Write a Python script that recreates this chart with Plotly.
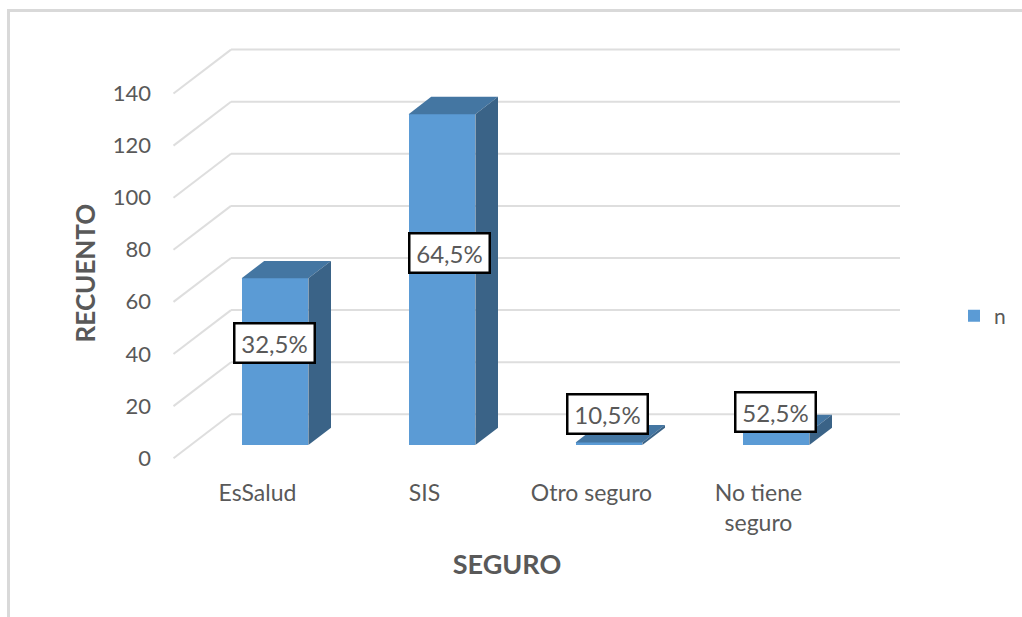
import plotly.graph_objects as go

categories = ["EsSalud", "SIS", "Otro seguro", "No tiene<br>seguro"]
counts = [64, 127, 1, 5]
percent_labels = ["32,5%", "64,5%", "10,5%", "52,5%"]
series_name = "n"
y_ticks = [0, 20, 40, 60, 80, 100, 120, 140]

# pixel geometry of the page
W, H = 1022, 617
PX_PER_CAT = 167.0
PX_PER_UNIT = 2.605
X0_PX, Y0_PX = 275.0, 456.0     # pixel of category 0 centre / value 0
DOM_L, DOM_R, DOM_T, DOM_B = 112, 902, 46, 500
AXIS_X_PX, AXIS_Y_PX = 151, 477

def xpx(p):
    return (p - X0_PX) / PX_PER_CAT
def ypx(p):
    return (Y0_PX - p) / PX_PER_UNIT

BAR_W = 0.4
BAR_BASE = ypx(445)
DEPTH_X = 22.6 / PX_PER_CAT
DEPTH_Y = 17.3 / PX_PER_UNIT
GRID_FRONT_X, GRID_BACK_X, GRID_RIGHT_X = xpx(173.5), xpx(231), xpx(900)
GRID_FRONT_OFF, GRID_BACK_OFF = ypx(458.2), ypx(414.3)

FRONT, TOP, SIDE = "#5B9BD5", "#4476A2", "#3A6387"
GRAY = "#595959"
FONT = "Lato"

positions = list(range(len(categories)))
fig = go.Figure()
fig.add_trace(go.Bar(x=positions, y=counts, base=[BAR_BASE] * 4, width=BAR_W,
                     marker=dict(color=FRONT, line=dict(width=0)), name=series_name,
                     showlegend=True))
for p, c in zip(positions, counts):
    l, r = p - BAR_W / 2, p + BAR_W / 2
    b, t = BAR_BASE, BAR_BASE + c
    fig.add_trace(go.Scatter(
        x=[l, r, r + DEPTH_X, l + DEPTH_X, l], y=[t, t, t + DEPTH_Y, t + DEPTH_Y, t],
        mode="lines", fill="toself", fillcolor=TOP, line=dict(width=0),
        showlegend=False, hoverinfo="skip"))
    fig.add_trace(go.Scatter(
        x=[r, r + DEPTH_X, r + DEPTH_X, r, r], y=[b, b + DEPTH_Y, t + DEPTH_Y, t, b],
        mode="lines", fill="toself", fillcolor=SIDE, line=dict(width=0),
        showlegend=False, hoverinfo="skip"))

shapes = []
for t in y_ticks:
    gl = dict(color="#DEDEDE", width=2)
    shapes.append(dict(type="line", xref="x", yref="y", layer="below", line=gl,
                       x0=GRID_FRONT_X, y0=t + GRID_FRONT_OFF, x1=GRID_BACK_X, y1=t + GRID_BACK_OFF))
    shapes.append(dict(type="line", xref="x", yref="y", layer="below", line=gl,
                       x0=GRID_BACK_X, y0=t + GRID_BACK_OFF, x1=GRID_RIGHT_X, y1=t + GRID_BACK_OFF))

dw, dh = DOM_R - DOM_L, DOM_B - DOM_T
def pxx(p):
    return (p - DOM_L) / dw
def pxy(p):
    return (DOM_B - p) / dh
frame = dict(color="#D9D9D9", width=3)
shapes.append(dict(type="line", xref="paper", yref="paper", line=frame,
                   x0=pxx(8.5), x1=pxx(W), y0=pxy(10.5), y1=pxy(10.5)))
shapes.append(dict(type="line", xref="paper", yref="paper", line=frame,
                   x0=pxx(8.5), x1=pxx(8.5), y0=pxy(9), y1=pxy(H)))

label_x_px = [274.5, 449.5, 607.5, 775]
label_y_px = [343, 252.5, 413.5, 411.7]
annotations = [dict(x=xpx(lx), y=ypx(ly), xref="x", yref="y", text=txt, showarrow=False,
                    width=78, height=37, align="center", valign="middle",
                    bgcolor="white", bordercolor="#000000", borderwidth=2.5, borderpad=0,
                    font=dict(family=FONT, size=24, color=GRAY))
               for lx, ly, txt in zip(label_x_px, label_y_px, percent_labels)]

fig.update_layout(
    width=W, height=H, autosize=False,
    margin=dict(l=DOM_L, r=W - DOM_R, t=DOM_T, b=H - DOM_B, pad=0, autoexpand=False),
    paper_bgcolor="white", plot_bgcolor="rgba(0,0,0,0)",
    font=dict(family=FONT, color=GRAY, size=21),
    shapes=shapes, annotations=annotations, bargap=0,
    legend=dict(x=pxx(954), y=pxy(316), xanchor="left", yanchor="middle",
                font=dict(size=21, family=FONT, color=GRAY), bgcolor="rgba(0,0,0,0)",
                itemwidth=30),
    xaxis=dict(domain=[0, 1], range=[xpx(DOM_L), xpx(DOM_R)], anchor="free",
               position=pxy(AXIS_Y_PX), showgrid=False, zeroline=False, showline=False,
               ticks="", tickmode="array", tickvals=[p - 0.105 for p in positions],
               ticktext=categories, tickangle=0, tickfont=dict(size=23, color=GRAY, family=FONT),
               title=dict(text="<b>SEGURO</b>", font=dict(size=27, color=GRAY, family=FONT), standoff=20)),
    yaxis=dict(domain=[0, 1], range=[ypx(DOM_B), ypx(DOM_T)], anchor="free",
               position=pxx(AXIS_X_PX), showgrid=False, zeroline=False, showline=False,
               ticks="", tickmode="array", tickvals=y_ticks, ticklabelshift=2,
               tickfont=dict(size=22, color=GRAY, family=FONT),
               title=dict(text="<b>RECUENTO</b>", font=dict(size=26, color=GRAY, family=FONT), standoff=8)),
)

fig.write_html("out.html", config={"displayModeBar": False},
               post_script="document.body.style.margin='0';document.body.style.overflow='hidden';")
